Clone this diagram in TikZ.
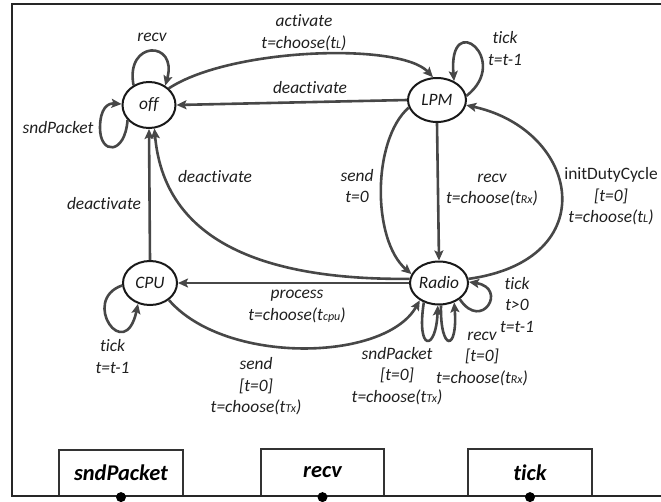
\documentclass[tikz,border=0pt]{standalone}
\usepackage{fontspec}
\setmainfont{Carlito}[Ligatures={NoCommon}]
\usetikzlibrary{arrows.meta,shapes.geometric}
\newcommand\smallsub[1]{{\fontsize{12}{12}\selectfont #1}}
\begin{document}
\begin{tikzpicture}[x=1pt,y=-1pt,
  state/.style={ellipse, draw=black!90, line width=2pt, inner sep=0pt, font=\itshape\fontsize{17.4}{21}\selectfont, text=black!90},
  tr/.style={draw=black!72, line width=2.6pt, -{Stealth[length=10pt,width=9pt,inset=2pt]}},
  lbl/.style={font=\itshape\fontsize{17.4}{21.5}\selectfont, text=black!88, align=center, inner sep=0pt},
  portbox/.style={rectangle, draw=black!80, line width=2.2pt, inner sep=0pt, font=\bfseries\itshape\fontsize{22.4}{26}\selectfont},
  portdot/.style={circle, fill=black, inner sep=0pt, minimum size=10pt},
  frameline/.style={draw=black!85, line width=2pt}
]
\useasboundingbox (0,0) rectangle (661,501);

% states
\node[state, minimum width=53pt, minimum height=46pt] (off) at (149,105) {off};
\node[state, minimum width=58pt, minimum height=44pt] (lpm) at (437,100) {LPM};
\node[state, minimum width=54pt, minimum height=44pt] (cpu) at (150,283) {CPU};
\node[state, minimum width=58pt, minimum height=43pt] (radio) at (439,283) {Radio};

% transitions
\draw[tr] (off.128) .. controls (125,40) and (178,40) .. (off.50);
\draw[tr] (off.215) .. controls (125,155) and (100,155) .. (100,128) .. controls (100,108) and (108,103) .. (off.178);
\draw[tr] (off.40) .. controls (230,48) and (400,42) .. (lpm.100);
\draw[tr] (lpm.west) -- (off.east);
\draw[tr] (lpm.8) .. controls (512,60) and (448,8) .. (lpm.48);
\draw[tr] (lpm.south) -- (radio.north);
\draw[tr] (lpm.195) .. controls (372,140) and (372,240) .. (radio.162);
\draw[tr] (radio.8) .. controls (605,260) and (580,130) .. (lpm.350);
\draw[tr] (cpu.north) -- (off.south);
\draw[tr] (radio.172) .. controls (280,280) and (165,250) .. (off.283);
\draw[tr] (radio.west) -- (cpu.east);
\draw[tr] (cpu.185) .. controls (80,300) and (125,365) .. (cpu.240);
\draw[tr] (cpu.318) .. controls (225,365) and (385,362) .. (radio.222);
\draw[tr] (radio.322) .. controls (482,332) and (508,288) .. (radio.2);
\draw[tr] (radio.232) .. controls (416,352) and (436,352) .. (radio.267);
\draw[tr] (radio.275) .. controls (440,352) and (458,352) .. (radio.308);

% labels
\node[lbl] (lrecvoff) at (152,37) {recv};
\node[lbl] (lsndoff) at (58,128) {sndPacket};
\node[lbl] (lact) at (304,32.5) {activate\\t=choose(t\smallsub{L})};
\node[lbl] (ldeac1) at (310,88) {deactivate};
\node[lbl] (ltickl) at (505,48.5) {tick\\t=t-1};
\node[lbl] (ldeac2) at (104,204) {deactivate};
\node[lbl] (ldeac3) at (215,177) {deactivate};
\node[lbl] (lsend1) at (357,186) {send\\t=0};
\node[lbl] (lrecv1) at (492,190) {recv\\t=choose(t\smallsub{Rx})};
\node[lbl] (linit) at (611,196.5) {{\upshape initDutyCycle}\\{}[t=0]\\t=choose(t\smallsub{L})};
\node[lbl] (lproc) at (297,306.5) {process\\t=choose(t\smallsub{cpu})};
\node[lbl] (ltickc) at (112.5,356.5) {tick\\t=t-1};
\node[lbl] (lsendc) at (256,386.5) {send\\{}[t=0]\\t=choose(t\smallsub{Tx})};
\node[lbl] (ltickr) at (517,305) {tick\\t>0\\t=t-1};
\node[lbl] (lrecvr) at (482,358.5) {recv\\{}[t=0]\\t=choose(t\smallsub{Rx})};
\node[lbl] (lsndr) at (397,376) {sndPacket\\{}[t=0]\\t=choose(t\smallsub{Tx})};

% ports
\node[portbox, minimum width=124pt, minimum height=46pt] (bsnd) at (121,473) {sndPacket};
\node[portbox, minimum width=123pt, minimum height=47pt] (brecv) at (322.5,472.5) {recv};
\node[portbox, minimum width=124pt, minimum height=47pt] (btick) at (530,472.5) {tick};

% frame
\draw[frameline] (661,4) -- (12,4) -- (12,496) -- (661,496);

\node[portdot] (dsnd) at (bsnd.south) {};
\node[portdot] (drecv) at (brecv.south) {};
\node[portdot] (dtick) at (btick.south) {};
\end{tikzpicture}
\end{document}
